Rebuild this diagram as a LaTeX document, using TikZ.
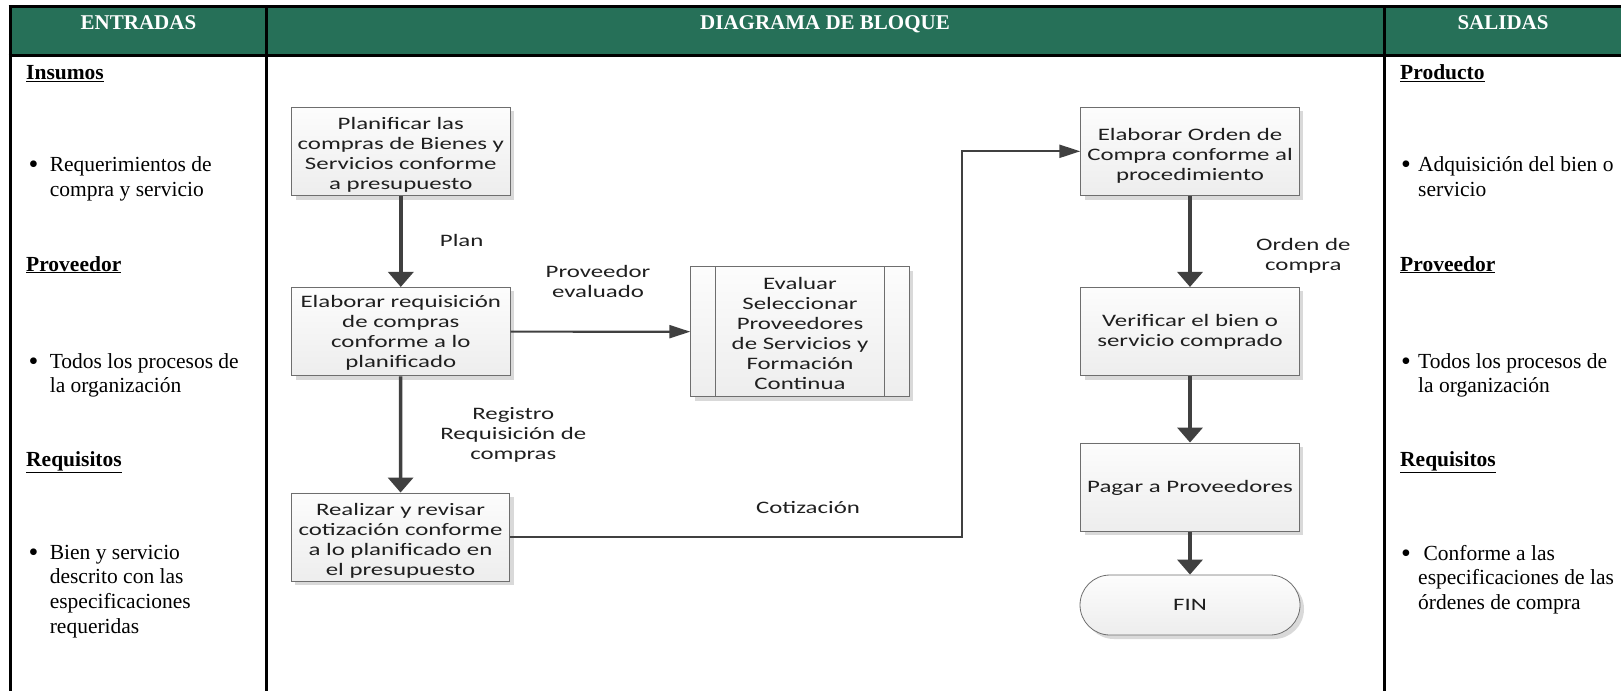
\documentclass[tikz,border=0pt]{standalone}
\usepackage{fontspec}
\setmainfont{Liberation Serif}
\newfontfamily\flowfont[FakeStretch=1.42]{Carlito}
\usetikzlibrary{arrows.meta,shadows,calc}

\definecolor{hdrgreen}{RGB}{38,112,88}
\definecolor{arrowgray}{RGB}{64,64,64}
\definecolor{boxedge}{RGB}{110,110,110}

\newcommand{\bigbullet}{{\fontsize{28}{28}\selectfont\raisebox{-2.2pt}{•}}}

\begin{document}
\begin{tikzpicture}[x=1pt,y=-1pt,
  proc/.style={draw=boxedge, line width=0.8pt, top color=gray!2, bottom color=gray!14,
     minimum width=218.6pt, minimum height=88.5pt, inner sep=0pt,
     drop shadow={shadow xshift=4pt, shadow yshift=-4pt, fill=gray!30, opacity=1}},
  ptext/.style={align=center, font=\flowfont\fontsize{17.5}{20}\selectfont, text=black!88, inner sep=0pt},
  lbl/.style={align=center, font=\flowfont\fontsize{17.5}{20}\selectfont, text=black!88, inner sep=0pt},
  vflow/.style={draw=arrowgray, line width=3.5pt, -{Triangle[length=15pt,width=25pt]}},
  hflow/.style={draw=arrowgray, line width=2.2pt, -{Triangle[length=21pt,width=13pt]}},
  rule/.style={line width=3pt, black},
  hdr/.style={text=white, font=\fontsize{21}{24}\selectfont\bfseries, anchor=base, inner sep=0pt},
  sect/.style={anchor=base west, font=\fontsize{21.5}{24.8}\selectfont\bfseries, inner sep=0pt},
  item/.style={anchor=base west, align=left, font=\fontsize{21.5}{24.8}\selectfont, inner sep=0pt},
  dot/.style={anchor=base west, inner sep=0pt},
]
\useasboundingbox (0,0) rectangle (1621,691);

% table frame and header band
\fill[hdrgreen] (10,6.5) rectangle (1621,55);
\draw[rule] (8.5,6.5) -- (1621,6.5);
\draw[rule] (8.5,55) -- (1621,55);
\draw[rule] (10,5) -- (10,691);
\draw[rule] (266,5) -- (266,691);
\draw[rule] (1384,5) -- (1384,691);

\node[hdr] (hin)  at (138.5,29.5) {ENTRADAS};
\node[hdr] (hmid) at (825,29.5)   {DIAGRAMA DE BLOQUE};
\node[hdr] (hout) at (1503,29.5)  {SALIDAS};

% inputs column (multi-line items are placed by the baseline of their last line)
\node[sect] (insumos) at (26,79.5) {\underline{Insumos}};
\node[dot]  (d1) at (28.5,171.5) {\bigbullet};
\node[item] (i1) at (49.6,196.3) {Requerimientos de\\compra y servicio};
\node[sect] (provin) at (26,271) {\underline{Proveedor}};
\node[dot]  (d2) at (28.5,368) {\bigbullet};
\node[item] (i2) at (49.6,392.8) {Todos los procesos de\\la organización};
\node[sect] (reqin) at (26,466.5) {\underline{Requisitos}};
\node[dot]  (d3) at (28.5,559) {\bigbullet};
\node[item] (i3) at (49.6,633.4) {Bien y servicio\\descrito con las\\especificaciones\\requeridas};

% outputs column
\node[sect] (producto) at (1400,79.5) {\underline{Producto}};
\node[dot]  (d4) at (1401,171.5) {\bigbullet};
\node[item] (o1) at (1418,196.3) {Adquisición del bien o\\servicio};
\node[sect] (provout) at (1400,271) {\underline{Proveedor}};
\node[dot]  (d5) at (1401,368) {\bigbullet};
\node[item] (o2) at (1418,392.8) {Todos los procesos de\\la organización};
\node[sect] (reqout) at (1400,466.5) {\underline{Requisitos}};
\node[dot]  (d6) at (1401,560) {\bigbullet};
\node[item] (o3) at (1418,609.6) {\ Conforme a las\\especificaciones de las\\órdenes de compra};

% process blocks
\node[proc, label={[ptext,yshift=-3.5pt]center:{Planificar las\\compras de Bienes y\\Servicios conforme\\a presupuesto}}] (b1) at (400.8,151.3) {};
\node[proc, label={[ptext,yshift=-1.5pt]center:{Elaborar requisición\\de compras\\conforme a lo\\planificado}}] (b2) at (400.8,331.6) {};
\node[proc, label={[ptext,yshift=-4pt]center:{Realizar y revisar\\cotización conforme\\a lo planificado en\\el presupuesto}}] (b3) at (400.5,537.2) {};
\node[proc, minimum height=130pt, label={[ptext,yshift=-1.5pt]center:{Evaluar\\Seleccionar\\Proveedores\\de Servicios y\\Formación\\Continua}}] (b4) at (800,331.7) {};
\draw[draw=boxedge, line width=0.8pt] ($(b4.north west)+(25.3,0)$) -- ($(b4.south west)+(25.3,0)$);
\draw[draw=boxedge, line width=0.8pt] ($(b4.north east)+(-25.3,0)$) -- ($(b4.south east)+(-25.3,0)$);
\node[proc, label={[ptext,yshift=-4.5pt]center:{Elaborar Orden de\\Compra conforme al\\procedimiento}}] (b5) at (1190,151.3) {};
\node[proc, label={[ptext,yshift=-0.5pt]center:{Verificar el bien o\\servicio comprado}}] (b6) at (1190,331.6) {};
\node[proc, label={[ptext,yshift=-1pt]center:{Pagar a Proveedores}}] (b7) at (1190,487.2) {};
\node[proc, minimum width=220pt, minimum height=60pt, rounded corners=30pt,
      label={[ptext]center:FIN}] (fin) at (1190,605) {};

% connectors
\coordinate (bend) at (961.7,537.2);
\draw[vflow] (b1) -- (b2);
\draw[vflow] (b2) -- (b3);
\draw[hflow] (b2) -- (b4);
\draw[hflow] (b3.east) -- (bend) |- (b5.west);
\draw[vflow] (b5) -- (b6);
\draw[vflow] (b6) -- (b7);
\draw[vflow] (b7) -- (fin);

% connector labels
\node[lbl] (lplan) at (461.7,240)   {Plan};
\node[lbl] (lprov) at (598,281)     {Proveedor\\evaluado};
\node[lbl] (lreg)  at (513.3,434.5) {Registro\\Requisición de\\compras};
\node[lbl] (lcot)  at (808,507.6)   {Cotización};
\node[lbl] (lord)  at (1303.3,256)  {Orden de\\compra};
\end{tikzpicture}
\end{document}
